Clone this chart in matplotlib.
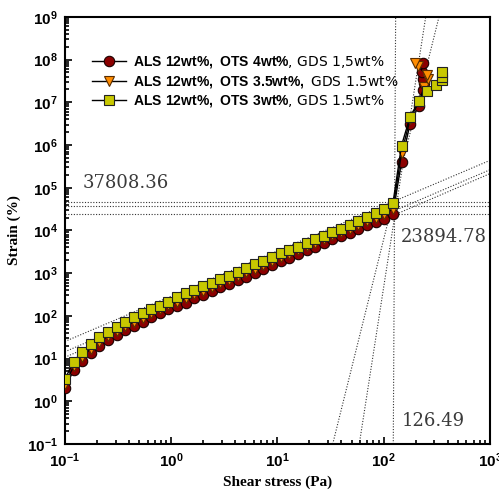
import numpy as np
import matplotlib
matplotlib.use('Agg')
import matplotlib.pyplot as plt
from matplotlib.ticker import LogLocator, FuncFormatter, NullFormatter

# shear stress (Pa), common for the linear part
stress = [0.100, 0.121, 0.145, 0.175, 0.211, 0.255, 0.307, 0.370, 0.446, 0.538,
          0.649, 0.782, 0.943, 1.14, 1.37, 1.65, 1.99, 2.40, 2.90, 3.49,
          4.21, 5.07, 6.12, 7.37, 8.89, 10.7, 12.9, 15.6, 18.8, 22.6,
          27.3, 32.9, 39.7, 47.8, 57.7, 69.5, 83.8, 101, 122]

# ALS 12wt%, OTS 4wt%
ots4_stress = stress + [147, 177, 213, 235, 241, 235, 230, 235]
ots4_strain = [2.0, 5.4, 8.9, 13.8, 19.9, 27.5, 35.5, 46.8, 57.5, 72.4,
               93, 115, 141, 170, 204, 258, 309, 380, 468, 562,
               692, 832, 1023, 1230, 1510, 1900, 2300, 2820, 3480, 4170,
               5010, 6200, 7430, 8900, 11000, 13500, 16000, 19000, 23900,
               4.1e5, 3.1e6, 8.3e6, 1.95e7, 2.8e7, 3.6e7, 5.2e7, 8.3e7]

# ALS 12wt%, OTS 3.5wt%
ots35_stress = stress + [147, 177, 213, 241, 262, 253, 211, 197]
ots35_strain = [2.5, 6.6, 11, 17, 24.5, 34, 44, 58, 72, 90,
                114, 142, 175, 212, 255, 320, 385, 470, 580, 700,
                860, 1040, 1270, 1530, 1880, 2350, 2850, 3500, 4300, 5150,
                6200, 7650, 9200, 11000, 13700, 16800, 20000, 24000, 32000,
                6.5e5, 4.0e6, 1.0e7, 2.3e7, 3.6e7, 4.4e7, 6.9e7, 8.3e7]

# ALS 12wt%, OTS 3wt%
ots3_stress = stress + [147, 177, 213, 257, 310, 350, 355, 350]
ots3_strain = [3.3, 8.5, 14.5, 22, 31.6, 42.7, 56, 73, 93, 115,
               143, 174, 215, 275, 339, 405, 500, 590, 720, 870,
               1070, 1300, 1610, 1940, 2350, 2900, 3480, 4170, 5150, 6200,
               7430, 9170, 11000, 13700, 17000, 20400, 25000, 31000, 43000,
               9.7e5, 4.6e6, 1.05e7, 1.8e7, 2.6e7, 3.3e7, 4.0e7, 5.2e7]

# tangent fits: log10(strain) = a + b*log10(stress)
low_fits = [(2.46, 1.06), (2.225, 1.065), (2.105, 1.075)]
steep_fits = [(-29.32, 16.0), (-16.2, 10.0), (-941.4, 450.0)]
crossing_strain = [47000, 37808.36, 23894.78]
crossing_labels = ['37808.36', '23894.78', '126.49']

plt.rcParams['mathtext.fontset'] = 'custom'
plt.rcParams['mathtext.bf'] = 'Liberation Sans:bold'
plt.rcParams['mathtext.rm'] = 'Liberation Sans'

fig = plt.figure(figsize=(4.99, 4.95), dpi=100)
ax = fig.add_axes([0.130, 0.103, 0.852, 0.863])

dot = dict(color='#333333', lw=0.8, ls=(0, (1, 1.5)), zorder=1)
for a, b in low_fits:
    xs = np.array([0.1, 1000])
    ax.plot(xs, 10 ** (a + b * np.log10(xs)), **dot)
for a, b in steep_fits:
    ly = np.array([-1.0, 9.0])
    ax.plot(10 ** ((ly - a) / b), 10 ** ly, **dot)
for s in crossing_strain:
    ax.axhline(s, **dot)

ax.plot(ots4_stress, ots4_strain, '-o', color='black', lw=1, ms=7.5,
        mfc='#8B0000', mec='#1a0000', mew=0.8, zorder=3,
        label=r'$\mathbf{ALS\ 12wt\%,\ OTS\ 4wt\%}$, GDS 1,5wt%')
ax.plot(ots35_stress, ots35_strain, '-v', color='black', lw=1, ms=7.5,
        mfc='#FF8C00', mec='#5a2d00', mew=0.8, zorder=4,
        label=r'$\mathbf{ALS\ 12wt\%,\ OTS\ 3.5wt\%,}$ GDS 1.5wt%')
ax.plot(ots3_stress, ots3_strain, '-s', color='black', lw=1, ms=7,
        mfc='#C8C800', mec='#222222', mew=0.8, zorder=5,
        label=r'$\mathbf{ALS\ 12wt\%,\ OTS\ 3wt\%}$, GDS 1.5wt%')

ax.set_xscale('log')
ax.set_yscale('log')
ax.set_xlim(0.1, 1000)
ax.set_ylim(0.1, 1e9)

fmt = FuncFormatter(lambda v, p: r'$\mathbf{10^{%d}}$' % round(np.log10(v)))
for axis in (ax.xaxis, ax.yaxis):
    axis.set_major_locator(LogLocator(base=10, numticks=30))
    axis.set_minor_locator(LogLocator(base=10, subs=np.arange(2, 10), numticks=100))
    axis.set_major_formatter(fmt)
    axis.set_minor_formatter(NullFormatter())
ax.tick_params(which='both', direction='in', top=False, right=False, width=1.2)
ax.tick_params(which='major', length=5, labelsize=11, pad=5)
ax.tick_params(which='minor', length=3)
for sp in ax.spines.values():
    sp.set_linewidth(1.5)

ax.set_xlabel('Shear stress (Pa)', family='Liberation Serif', weight='bold', fontsize=11)
ax.set_ylabel('Strain (%)', family='Liberation Serif', weight='bold', fontsize=11)

tkw = dict(transform=ax.transAxes, family='DejaVu Serif', fontsize=13, color='#3a3a3a')
ax.text(0.042, 0.600, crossing_labels[0], **tkw)
ax.text(0.790, 0.473, crossing_labels[1], **tkw)
ax.text(0.793, 0.042, crossing_labels[2], **tkw)

ax.legend(loc='upper left', bbox_to_anchor=(0.05, 0.925), frameon=False,
          fontsize=10, handlelength=2.5, handletextpad=0.5, labelspacing=0.25,
          borderaxespad=0)

fig.savefig('out.png', dpi=100)
